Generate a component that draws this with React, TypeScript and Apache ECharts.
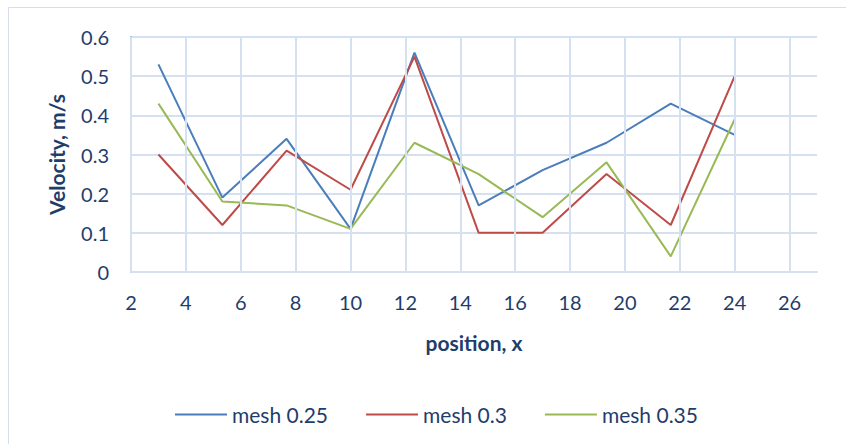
import React, { useEffect, useRef } from "react";
import * as echarts from "echarts";

const positions = [3, 5.33, 7.67, 10, 12.33, 14.67, 17, 19.33, 21.67, 24];
const mesh025 = [0.53, 0.19, 0.34, 0.11, 0.56, 0.17, 0.26, 0.33, 0.43, 0.35];
const mesh03 = [0.3, 0.12, 0.31, 0.21, 0.55, 0.1, 0.1, 0.25, 0.12, 0.5];
const mesh035 = [0.43, 0.18, 0.17, 0.11, 0.33, 0.25, 0.14, 0.28, 0.04, 0.39];
const xGridTicks = [2, 4, 6, 8, 10, 12, 14, 16, 18, 20, 22, 24, 26];
const seriesNames = ["mesh 0.25", "mesh 0.3", "mesh 0.35"];
const colors = ["#4A7EBB", "#BE4B48", "#98B954"];

const FONT = "Lato, 'Open Sans', sans-serif";
const TEXT = "#1F3D6B";
const GRID = "#D5E0F1";

export default function App() {
  const ref = useRef<HTMLDivElement>(null);
  useEffect(() => {
    const chart = echarts.init(ref.current!, null, { renderer: "svg" });
    const all = [mesh025, mesh03, mesh035];
    chart.setOption({
      animation: false,
      backgroundColor: "#fff",
      graphic: [
        {
          type: "rect",
          shape: { x: 8.5, y: 7.5, width: 860, height: 460 },
          style: { fill: "none", stroke: "#D6DEEA", lineWidth: 1 },
          silent: true,
        },
      ],
      grid: { left: 131, right: 29, top: 37, bottom: 172 },
      legend: {
        top: 399,
        left: 170,
        itemWidth: 52,
        itemHeight: 2,
        itemGap: 38,
        icon: "rect",
        textStyle: { color: TEXT, fontFamily: FONT, fontSize: 21 },
        data: seriesNames,
      },
      xAxis: {
        type: "value",
        min: 2,
        max: 27,
        interval: 2,
        name: "position, x",
        nameLocation: "middle",
        nameGap: 60,
        nameTextStyle: { color: TEXT, fontFamily: FONT, fontSize: 21, fontWeight: "bold" },
        axisLine: { show: true, lineStyle: { color: GRID, width: 2 } },
        axisTick: { show: false },
        axisLabel: {
          color: TEXT,
          fontFamily: FONT,
          fontSize: 20,
          margin: 20,
          showMaxLabel: false,
          formatter: (v: number) => (v > 26 ? "" : String(v)),
        },
        splitLine: { show: false },
      },
      yAxis: {
        type: "value",
        min: 0,
        max: 0.6,
        interval: 0.1,
        name: "Velocity, m/s",
        nameLocation: "middle",
        nameGap: 64,
        nameTextStyle: { color: TEXT, fontFamily: FONT, fontSize: 21, fontWeight: "bold" },
        axisLine: { show: true, lineStyle: { color: "#8EB0DE", width: 2 } },
        axisTick: { show: false },
        axisLabel: {
          color: TEXT,
          fontFamily: FONT,
          fontSize: 20,
          margin: 22,
          formatter: (v: number) => (v === 0 ? "0" : v.toFixed(1)),
        },
        splitLine: { show: true, lineStyle: { color: GRID, width: 2 } },
      },
      series: [
        {
          name: "__grid",
          type: "line",
          data: [],
          z: 1,
          silent: true,
          markLine: {
            silent: true,
            symbol: "none",
            label: { show: false },
            lineStyle: { color: GRID, width: 2, type: "solid" },
            data: xGridTicks.map((v) => ({ xAxis: v })),
          },
        },
        ...seriesNames.map((name, i) => ({
          name,
          type: "line",
          z: 3,
          data: positions.map((x, j) => [x, all[i][j]]),
          showSymbol: false,
          symbol: "none",
          lineStyle: { color: colors[i], width: 2 },
          itemStyle: { color: colors[i] },
        })),
      ],
    });
    return () => chart.dispose();
  }, []);
  return (
    <div
      ref={ref}
      style={{ position: "absolute", left: 0, top: 0, width: 846, height: 444 }}
    />
  );
}
